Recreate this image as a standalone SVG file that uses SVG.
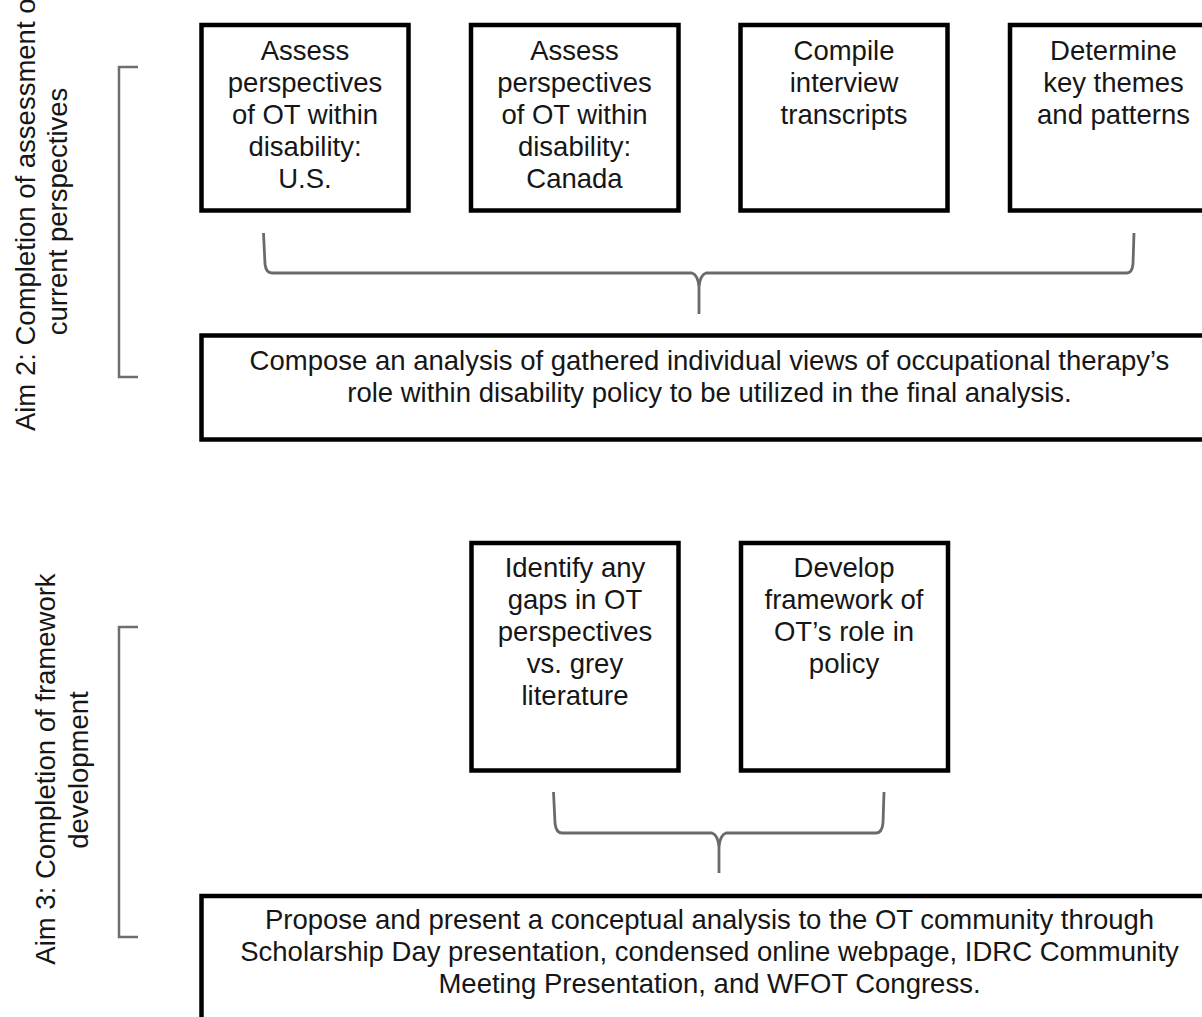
<svg xmlns="http://www.w3.org/2000/svg" width="1202" height="1017" viewBox="0 0 1202 1017">
<style>
.box{fill:#fff;stroke:#000;stroke-width:4.5}
.t{font-family:"Liberation Sans",Arial,Helvetica,sans-serif;font-size:27.5px;fill:#161616;text-anchor:middle}
.brk{fill:none;stroke:#6e6e6e;stroke-width:2.5}
.brace{fill:none;stroke:#6a6a6a;stroke-width:2.8;stroke-linejoin:round}
</style>
<rect width="1202" height="1017" fill="#fff"/>
<g id="aim2-label">
<text class="t" transform="translate(35,211) rotate(-90)">Aim 2: Completion of assessment of</text>
<text class="t" transform="translate(67,211.5) rotate(-90)">current perspectives</text>
</g>
<g id="aim3-label">
<text class="t" transform="translate(55,769) rotate(-90)">Aim 3: Completion of framework</text>
<text class="t" transform="translate(88,770) rotate(-90)">development</text>
</g>
<g id="n1"><rect class="box" x="201.5" y="25" width="207" height="185.5"/>
<text class="t" x="305"><tspan x="305" y="59.5">Assess</tspan><tspan x="305" y="91.5">perspectives</tspan><tspan x="305" y="123.5">of OT within</tspan><tspan x="305" y="155.5">disability:</tspan><tspan x="305" y="187.5">U.S.</tspan></text></g>
<g id="n2"><rect class="box" x="471" y="25" width="207.5" height="185.5"/>
<text class="t" x="574.5"><tspan x="574.5" y="59.5">Assess</tspan><tspan x="574.5" y="91.5">perspectives</tspan><tspan x="574.5" y="123.5">of OT within</tspan><tspan x="574.5" y="155.5">disability:</tspan><tspan x="574.5" y="187.5">Canada</tspan></text></g>
<g id="n3"><rect class="box" x="740.5" y="25" width="207" height="185.5"/>
<text class="t" x="844"><tspan x="844" y="59.5">Compile</tspan><tspan x="844" y="91.5">interview</tspan><tspan x="844" y="123.5">transcripts</tspan></text></g>
<g id="n4"><rect class="box" x="1010" y="25" width="207" height="185.5"/>
<text class="t" x="1113.5"><tspan x="1113.5" y="59.5">Determine</tspan><tspan x="1113.5" y="91.5">key themes</tspan><tspan x="1113.5" y="123.5">and patterns</tspan></text></g>
<g id="n5"><rect class="box" x="201.5" y="335.5" width="1016" height="104"/>
<text class="t" x="709.5"><tspan x="709.5" y="370">Compose an analysis of gathered individual views of occupational therapy’s</tspan><tspan x="709.5" y="402">role within disability policy to be utilized in the final analysis.</tspan></text></g>
<g id="n6"><rect class="box" x="471.5" y="543" width="207" height="227.5"/>
<text class="t" x="575"><tspan x="575" y="577">Identify any</tspan><tspan x="575" y="609">gaps in OT</tspan><tspan x="575" y="641">perspectives</tspan><tspan x="575" y="673">vs. grey</tspan><tspan x="575" y="705">literature</tspan></text></g>
<g id="n7"><rect class="box" x="741" y="543" width="207" height="227.5"/>
<text class="t" x="844"><tspan x="844" y="577">Develop</tspan><tspan x="844" y="609">framework of</tspan><tspan x="844" y="641">OT’s role in</tspan><tspan x="844" y="673">policy</tspan></text></g>
<g id="n8"><rect class="box" x="201.5" y="896" width="1016" height="130"/>
<text class="t" x="709.5"><tspan x="709.5" y="929">Propose and present a conceptual analysis to the OT community through</tspan><tspan x="709.5" y="961">Scholarship Day presentation, condensed online webpage, IDRC Community</tspan><tspan x="709.5" y="993">Meeting Presentation, and WFOT Congress.</tspan></text></g>
<g id="connectors">
<path class="brk" d="M138,67 L119,67 L119,377 L138,377"/>
<path class="brk" d="M138,627 L119,627 L119,937 L138,937"/>
<path class="brace" d="M263.5,233 L265,264 Q266,273 272,273 L692,273 Q698,275 699,287 L699,314 M699,287 Q700,275 706,273 L1127,273 Q1132,273 1133,264 L1134,233"/>
<path class="brace" d="M553.5,792 L555,823 Q556,833 562,833 L712,833 Q718,835 719,847 L719,873 M719,847 Q720,835 726,833 L876,833 Q882,833 883,823 L884,792"/>
</g>
</svg>
